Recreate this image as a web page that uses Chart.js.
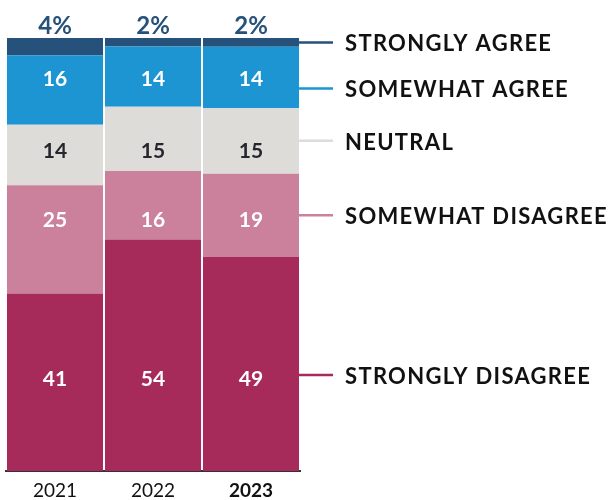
<!DOCTYPE html>
<html>
<head>
<meta charset="utf-8">
<script src="https://cdn.jsdelivr.net/npm/chart.js@4"></script>
<style>
  html, body { margin: 0; padding: 0; background: #fff; }
  #wrap { width: 613px; height: 500px; position: relative; }
</style>
</head>
<body>
<div id="wrap"><canvas id="myChart"></canvas></div>
<script>
// survey years
var years = ["2021", "2022", "2023"];

// answers, bottom of the stack first
var answers = ["STRONGLY DISAGREE", "SOMEWHAT DISAGREE", "NEUTRAL", "SOMEWHAT AGREE", "STRONGLY AGREE"];

// shares in percent as printed on the bars
var stronglyDisagree = [41, 54, 49];
var somewhatDisagree = [25, 16, 19];
var neutral = [14, 15, 15];
var somewhatAgree = [16, 14, 14];
var stronglyAgree = [4, 2, 2];

var colors = ['#a72b5a', '#cb809b', '#dddcd9', '#1d95d2', '#25517a'];
var valueColors = ['#fff', '#fff', '#26262e', '#fff', '#25517a'];

var series = [stronglyDisagree, somewhatDisagree, neutral, somewhatAgree, stronglyAgree];

// printed numbers are rounded, so each bar is scaled to fill 100
var totals = years.map(function(y, b) {
    return series.reduce(function(s, arr) { return s + arr[b]; }, 0);
});

var FONT = 'Lato, "Open Sans", sans-serif';

var datasets = series.map(function(arr, i) {
    return {
        label: answers[i],
        data: arr.map(function(v, b) { return v / totals[b] * 100; }),
        raw: arr,
        backgroundColor: colors[i],
        borderWidth: 0,
        barPercentage: 0.98,
        categoryPercentage: 1
    };
});

// nudges (px) for the printed numbers row and the side labels
var rowNudge = [12, 0, 6, -2, 0];
var sideNudge = [11, 0, 0, 11, 0];

var labelPlugin = {
    id: 'labels',
    afterDatasetsDraw: function(chart) {
        var ctx = chart.ctx;
        ctx.save();
        chart.data.datasets.forEach(function(ds, i) {
            var meta = chart.getDatasetMeta(i);
            var centers = meta.data.map(function(bar) { return (bar.y + bar.base) / 2; });
            var rowY = centers.reduce(function(a, c) { return a + c; }, 0) / centers.length + rowNudge[i];
            var last = i === chart.data.datasets.length - 1;

            ctx.textAlign = 'center';
            ctx.letterSpacing = '0px';
            meta.data.forEach(function(bar, b) {
                if (last) {
                    ctx.font = 'bold 24px ' + FONT;
                    ctx.fillStyle = valueColors[i];
                    ctx.textBaseline = 'alphabetic';
                    ctx.fillText(ds.raw[b] + '%', bar.x, bar.y - 4);
                } else {
                    ctx.font = 'bold 21px ' + FONT;
                    ctx.fillStyle = valueColors[i];
                    ctx.textBaseline = 'middle';
                    ctx.fillText(String(ds.raw[b]), bar.x, rowY);
                }
            });

            // side label with connector, level with the last bar's segment
            var lineY = centers[centers.length - 1] + sideNudge[i];
            var lastBar = meta.data[meta.data.length - 1];
            var x0 = lastBar.x + lastBar.width / 2;
            ctx.strokeStyle = colors[i];
            ctx.lineWidth = 2.5;
            ctx.beginPath();
            ctx.moveTo(x0, lineY);
            ctx.lineTo(x0 + 34, lineY);
            ctx.stroke();

            ctx.font = 'bold 22px ' + FONT;
            ctx.letterSpacing = '1.3px';
            ctx.fillStyle = '#111';
            ctx.textAlign = 'left';
            ctx.textBaseline = 'middle';
            ctx.fillText(ds.label, x0 + 46, lineY + 2);
        });
        ctx.restore();
    }
};

var config = {
    type: 'bar',
    data: {
        labels: years,
        datasets: datasets
    },
    options: {
        responsive: true,
        maintainAspectRatio: false,
        animation: false,
        layout: {
            padding: { left: 6, right: 313, top: 38, bottom: -10 }
        },
        plugins: {
            legend: { display: false },
            tooltip: { enabled: false }
        },
        scales: {
            x: {
                stacked: true,
                grid: { display: false, drawTicks: false, tickLength: 0 },
                border: { display: true, color: '#333', width: 2 },
                ticks: {
                    padding: 8,
                    color: '#111',
                    font: function(c) {
                        return {
                            family: FONT,
                            size: 19,
                            weight: c.index === years.length - 1 ? 'bold' : 'normal'
                        };
                    }
                }
            },
            y: {
                stacked: true,
                display: false,
                min: 0,
                max: 100
            }
        }
    },
    plugins: [labelPlugin]
};

window.onload = function() {
    var ctx = document.getElementById("myChart");
    window.myBar = new Chart(ctx, config);
};
</script>
</body>
</html>
